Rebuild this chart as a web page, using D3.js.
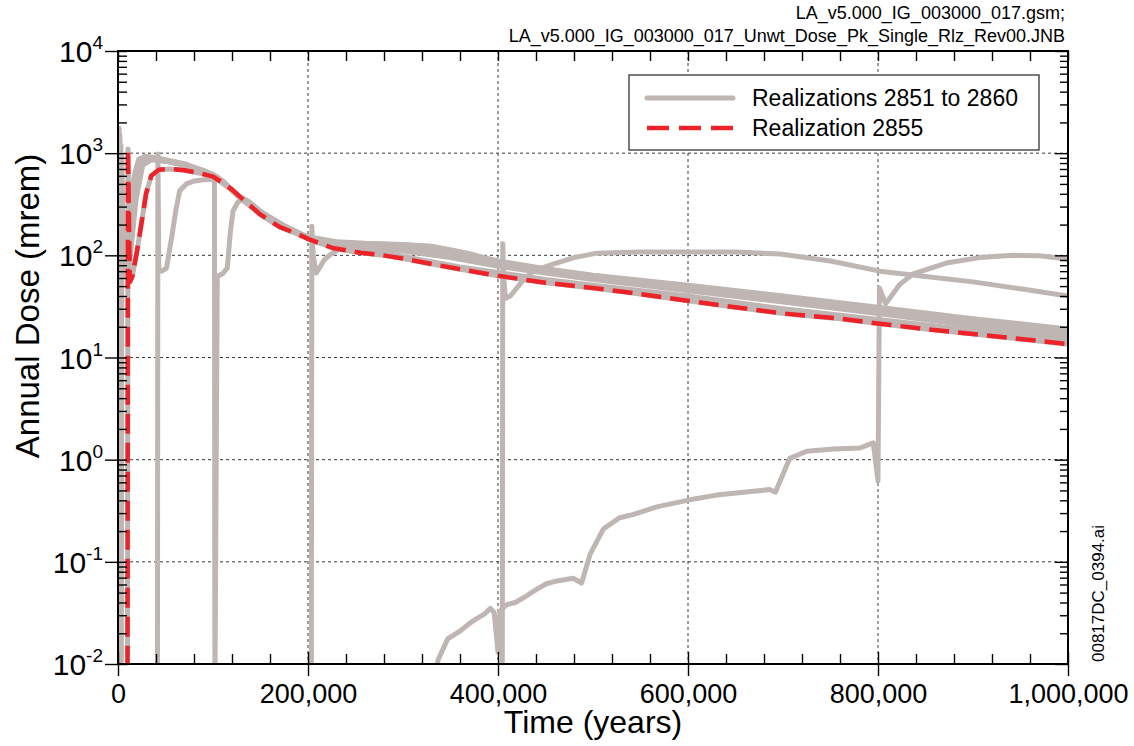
<!DOCTYPE html>
<html><head><meta charset="utf-8">
<script src="https://cdn.jsdelivr.net/npm/d3@7"></script>
<style>
body{margin:0;background:#fff;}
text{font-family:"Liberation Sans",Arial,Helvetica,sans-serif;fill:#000;}
</style>
</head><body>
<svg id="c" width="1134" height="746"></svg>
<script>
// ---------- data ----------
const xMajor = [0, 200000, 400000, 600000, 800000, 1000000];
const xTickLabels = ["0", "200,000", "400,000", "600,000", "800,000", "1,000,000"];
const xMinor = [40000,80000,120000,160000,240000,280000,320000,360000,440000,480000,520000,560000,640000,680000,720000,760000,840000,880000,920000,960000];
const yMajor = [0.01, 0.1, 1, 10, 100, 1000, 10000];
const yTickExponents = ["-2", "-1", "0", "1", "2", "3", "4"];
const headerLines = ["LA_v5.000_IG_003000_017.gsm;", "LA_v5.000_IG_003000_017_Unwt_Dose_Pk_Single_Rlz_Rev00.JNB"];
const legendLabels = ["Realizations 2851 to 2860", "Realization 2855"];

// [time (years), annual dose (mrem)]
const rlz2851 = [[800,0.005],[1200,1750],[3000,150],[5000,75],[8000,95],[12000,250],[17000,600],[22000,880],[30000,920],[45000,880],[70000,790],[100000,620],[112000,520],[125000,390],[142000,295],[170000,205],[200000,150],[226000,135],[255000,130],[300000,127],[330000,122],[360000,108],[400000,88],[450000,74],[500000,64],[600000,51],[700000,40],[800000,31],[900000,24],[1000000,19]];
const rlz2852 = [[1500,0.005],[2000,1500],[4000,120],[7000,80],[10000,110],[15000,380],[20000,750],[27000,900],[40000,870],[70000,770],[100000,600],[115000,480],[130000,350],[150000,265],[175000,190],[200000,148],[230000,132],[260000,127],[300000,122],[350000,103],[400000,84],[450000,71],[500000,61],[600000,48],[700000,37],[800000,28],[900000,21.5],[1000000,17]];
const rlz2853 = [[2500,0.005],[3000,1200],[5000,100],[8000,70],[12000,120],[17000,420],[24000,820],[32000,880],[50000,840],[75000,740],[100000,590],[118000,450],[135000,330],[155000,245],[180000,180],[200000,147],[230000,128],[270000,118],[300000,110],[350000,95],[400000,78],[450000,67],[500000,58],[600000,45],[700000,35],[800000,27],[900000,20.5],[1000000,16]];
const rlz2854 = [[3500,0.005],[4000,900],[6000,90],[9000,68],[13000,100],[19000,350],[26000,760],[35000,860],[55000,820],[80000,720],[100000,600],[120000,440],[140000,300],[160000,225],[185000,170],[200000,148],[240000,120],[280000,106],[320000,90],[360000,77],[400000,68],[450000,58],[500000,51],[600000,40],[700000,30],[800000,23.5],[900000,18.5],[1000000,14.5]];
const rlz2855 = [[10000,0.005],[10500,1100],[12500,55],[15000,62],[20000,110],[25000,215],[29500,400],[35000,600],[43000,690],[55000,700],[70000,680],[85000,640],[100000,590],[112000,500],[120000,440],[135000,330],[150000,250],[170000,190],[190000,160],[200000,145],[226000,118],[255000,106],[276000,101],[300000,93],[350000,76],[400000,63],[450000,54],[500000,48],[540000,43],[590000,37],[650000,31],[700000,27],[760000,24],[800000,21.5],[850000,19],[900000,17],[950000,15.2],[1000000,13.5]];
const rlz2856 = [[41500,0.005],[42000,980],[43000,72],[46000,70],[51000,75],[54000,110],[57000,160],[61000,280],[65000,430],[72000,500],[79000,530],[90000,550],[101500,555],[102000,0.005],[104500,62],[110000,66],[115000,75],[118000,160],[121000,270],[126000,330],[132000,360],[138000,335],[150000,270],[175000,195],[200000,150],[240000,130],[280000,125],[320000,118],[360000,102],[400000,83],[450000,70],[500000,60],[600000,47],[700000,36],[800000,28],[900000,22],[1000000,17.5]];
const rlz2857 = [[203500,0.005],[204000,193],[205500,100],[208500,67],[212000,75],[217000,90],[223000,101],[234000,117],[245000,127],[260000,130],[300000,126],[340000,115],[380000,96],[400000,87],[450000,73],[500000,63],[600000,50],[700000,39],[800000,30],[900000,23],[1000000,18.5]];
const rlz2858 = [[404500,0.005],[405000,130],[406000,60],[408000,38],[413000,40],[425000,55],[437000,70],[458000,82],[480000,95],[504000,105],[550000,108],[592000,108],[650000,108],[697000,103],[750000,88],[802000,70],[850000,62],[900000,55],[950000,47],[1000000,40]];
const rlz2859 = [[335000,0.009],[337000,0.011],[347000,0.0176],[360000,0.021],[370000,0.025],[378000,0.028],[386000,0.031],[392000,0.035],[396000,0.032],[400000,0.013],[402000,0.033],[409000,0.038],[418000,0.04],[426000,0.044],[441000,0.054],[451000,0.061],[462000,0.065],[479000,0.069],[488000,0.062],[497000,0.119],[511000,0.21],[528000,0.27],[542000,0.29],[567000,0.345],[599000,0.40],[630000,0.45],[669000,0.49],[686000,0.51],[692000,0.48],[707000,1.03],[725000,1.21],[753000,1.27],[781000,1.3],[795000,1.46],[800000,0.62],[801500,48],[808000,33.5],[823000,52],[837000,66],[872000,84],[907000,95],[942000,100],[970000,99],[1000000,92]];
const rlz2860 = [[200,0.005],[600,1400],[2500,200],[4500,60],[7000,80],[11000,200],[16000,520],[21000,800],[28000,940],[40000,900],[60000,820],[90000,680],[105000,580],[120000,430],[138000,310],[160000,228],[185000,172],[200000,152],[230000,136],[260000,131],[300000,128],[330000,123],[370000,104],[400000,86],[450000,72],[500000,63],[600000,49],[700000,38],[800000,29.5],[900000,23],[1000000,18]];

const allRealizations = [rlz2851, rlz2852, rlz2853, rlz2854, rlz2855, rlz2856, rlz2857, rlz2858, rlz2859, rlz2860];
const highlighted = rlz2855;

// ---------- layout ----------
const M = {left:118, right:1068, top:51, bottom:664};
const GRAY = "#bfb6b3", RED = "#ee2229";

const x = d3.scaleLinear().domain([0, 1000000]).range([M.left, M.right]);
const y = d3.scaleLog().domain([0.01, 10000]).range([M.bottom, M.top]);

const yMinor = [];
yMajor.slice(0, -1).forEach(d => { for (let k = 2; k <= 9; k++) yMinor.push(d * k); });

const svg = d3.select("#c");
svg.append("rect").attr("width",1134).attr("height",746).attr("fill","#fff");
svg.append("defs").append("clipPath").attr("id","clip").append("rect")
  .attr("x", M.left).attr("y", M.top).attr("width", M.right - M.left).attr("height", M.bottom - M.top);

// grid
const grid = svg.append("g").attr("stroke","#3a3a3a").attr("stroke-width",1).attr("stroke-dasharray","3,3");
grid.selectAll("line.gx").data(xMajor.slice(1, -1)).join("line").attr("class","gx")
  .attr("x1", d => x(d)).attr("x2", d => x(d)).attr("y1", M.top).attr("y2", M.bottom);
grid.selectAll("line.gy").data(yMajor.slice(1, -1)).join("line").attr("class","gy")
  .attr("y1", d => y(d)).attr("y2", d => y(d)).attr("x1", M.left).attr("x2", M.right);

// series
const line = d3.line().x(d => x(d[0])).y(d => y(d[1]));
const plot = svg.append("g").attr("clip-path","url(#clip)");
plot.selectAll("path.rlz").data(allRealizations).join("path").attr("class","rlz")
  .attr("d", line).attr("fill","none").attr("stroke", GRAY).attr("stroke-width", 5)
  .attr("stroke-linejoin","round").attr("stroke-linecap","round");
plot.append("path").attr("d", line(highlighted)).attr("fill","none").attr("stroke", RED)
  .attr("stroke-width", 4.5).attr("stroke-dasharray","20,9").attr("stroke-linejoin","round");

// axes
function styleAxis(g){ g.select(".domain").remove(); g.selectAll(".tick line").attr("stroke","#000").attr("stroke-width",1.4); }
// bottom
svg.append("g").attr("transform",`translate(0,${M.bottom})`)
  .call(d3.axisBottom(x).tickValues(xMajor).tickSize(12).tickFormat((d,i) => xTickLabels[i]))
  .call(styleAxis)
  .call(g => g.selectAll(".tick text").attr("y", 39).attr("dy", 0).attr("font-size", 27).attr("font-family", null).style("font-family",'"Liberation Sans",Arial,sans-serif'));
svg.append("g").attr("transform",`translate(0,${M.bottom})`)
  .call(d3.axisBottom(x).tickValues(xMajor).tickSize(-12).tickFormat(""))
  .call(styleAxis);
svg.append("g").attr("transform",`translate(0,${M.bottom})`)
  .call(d3.axisBottom(x).tickValues(xMinor).tickSize(-10).tickFormat(""))
  .call(styleAxis);
// top
svg.append("g").attr("transform",`translate(0,${M.top})`)
  .call(d3.axisTop(x).tickValues(xMajor.concat(xMinor)).tickSize(-10).tickFormat(""))
  .call(styleAxis);
// left
svg.append("g").attr("transform",`translate(${M.left},0)`)
  .call(d3.axisLeft(y).tickValues(yMajor).tickSize(13).tickFormat(""))
  .call(styleAxis);
svg.append("g").attr("transform",`translate(${M.left},0)`)
  .call(d3.axisLeft(y).tickValues(yMajor.concat(yMinor)).tickSize(-9).tickFormat(""))
  .call(styleAxis);
// right
svg.append("g").attr("transform",`translate(${M.right},0)`)
  .call(d3.axisRight(y).tickValues(yMajor).tickSize(-13).tickFormat(""))
  .call(styleAxis);
svg.append("g").attr("transform",`translate(${M.right},0)`)
  .call(d3.axisRight(y).tickValues(yMinor).tickSize(-8).tickFormat(""))
  .call(styleAxis);

// y tick labels with superscripts
const yl = svg.append("g").selectAll("text").data(yMajor).join("text")
  .attr("x", 103).attr("y", d => y(d) + 11).attr("text-anchor","end");
yl.append("tspan").attr("font-size", 30).text("10");
yl.append("tspan").attr("font-size", 19).attr("dy", -13).text((d,i) => yTickExponents[i]);

// frame
svg.append("rect").attr("x", M.left).attr("y", M.top).attr("width", M.right - M.left).attr("height", M.bottom - M.top)
  .attr("fill","none").attr("stroke","#000").attr("stroke-width",2);

// axis titles
svg.append("text").attr("x", (M.left + M.right) / 2).attr("y", 733).attr("text-anchor","middle")
  .attr("font-size", 32).text("Time (years)");
svg.append("text").attr("transform","translate(39,306) rotate(-90)").attr("text-anchor","middle")
  .attr("font-size", 33).text("Annual Dose (mrem)");

// header
svg.selectAll("text.hdr").data(headerLines).join("text").attr("class","hdr")
  .attr("x", 1065).attr("y", (d,i) => 19 + i * 23).attr("text-anchor","end").attr("font-size", 18).text(d => d);
// side id
svg.append("text").attr("transform","translate(1104,662) rotate(-90)").attr("text-anchor","start")
  .attr("font-size", 17).text("00817DC_0394.ai");

// legend
const lg = svg.append("g");
lg.append("rect").attr("x", 629).attr("y", 75).attr("width", 410).attr("height", 75)
  .attr("fill","#fff").attr("stroke","#222").attr("stroke-width",1.2);
lg.append("line").attr("x1",647).attr("x2",733).attr("y1",98).attr("y2",98)
  .attr("stroke",GRAY).attr("stroke-width",5).attr("stroke-linecap","round");
lg.append("line").attr("x1",647).attr("x2",735).attr("y1",128).attr("y2",128)
  .attr("stroke",RED).attr("stroke-width",4.5).attr("stroke-dasharray","22,10");
lg.selectAll("text").data(legendLabels).join("text").attr("x", 752).attr("y", (d,i) => 106 + i * 30)
  .attr("font-size", 23).text(d => d);
</script>
</body></html>
